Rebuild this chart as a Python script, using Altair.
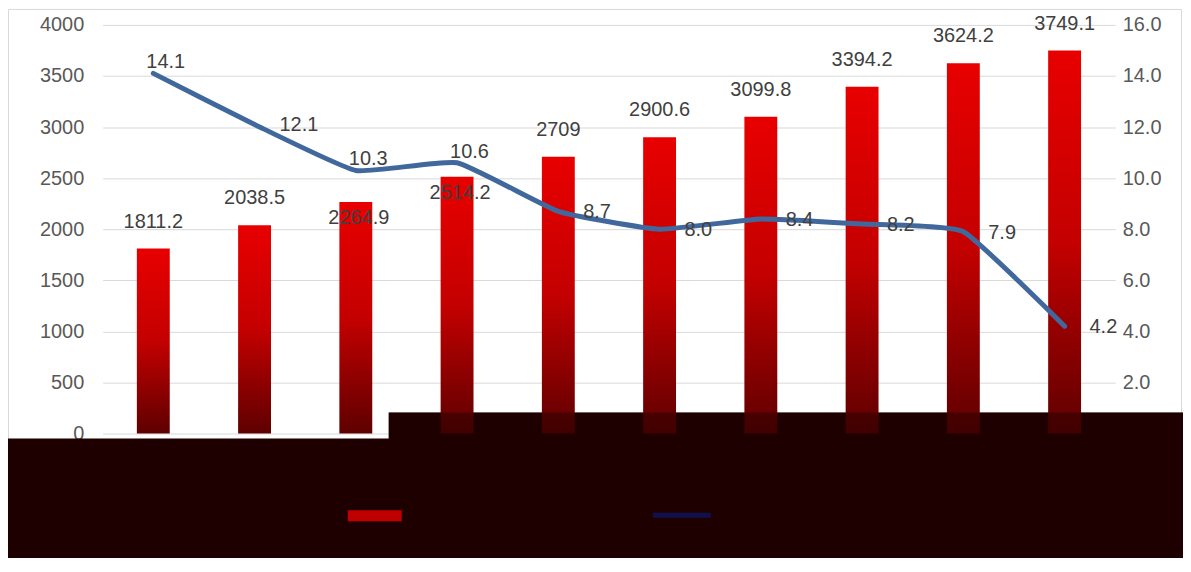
import altair as alt
import pandas as pd

# ---- data ----
categories = ["1", "2", "3", "4", "5", "6", "7", "8", "9", "10"]
totals = [1811.2, 2038.5, 2264.9, 2514.2, 2709, 2900.6, 3099.8, 3394.2, 3624.2, 3749.1]
growth = [14.1, 12.1, 10.3, 10.6, 8.7, 8.0, 8.4, 8.2, 7.9, 4.2]
total_labels = [str(v) for v in totals]
growth_labels = [f"{v:.1f}" for v in growth]

# label placement groups (style, not data)
growth_above = ["1", "3", "4"]
totals_lowered = ["3", "4"]

df = pd.DataFrame({
    "cat": categories,
    "total": totals,
    "growth": growth,
    "total_label": total_labels,
    "growth_label": growth_labels,
})

FONT = "Liberation Sans"
LABEL_COLOR = "#404040"
AXIS_COLOR = "#595959"
GRID = "#d9d9d9"

x = alt.X("cat:N", sort=categories, axis=None,
          scale=alt.Scale(range=[3, 1019], paddingInner=0, paddingOuter=0))

y_left = alt.Y("total:Q", title=None,
               scale=alt.Scale(domain=[0, 4000], nice=False),
               axis=alt.Axis(values=list(range(0, 4001, 500)), format="d", grid=True, gridColor=GRID,
                             gridWidth=1, domain=False, ticks=False, labelPadding=16,
                             labelFontSize=20, labelColor=AXIS_COLOR, labelFont=FONT))
y_left_plain = alt.Y("total:Q", title=None, scale=alt.Scale(domain=[0, 4000], nice=False))

y_right = alt.Y("growth:Q", title=None,
                scale=alt.Scale(domain=[0, 16], nice=False),
                axis=alt.Axis(orient="right", values=list(range(0, 17, 2)), format=".1f",
                              grid=False, domain=False, ticks=False, labelPadding=9,
                              labelFontSize=20, labelColor=AXIS_COLOR, labelFont=FONT))
y_right_plain = alt.Y("growth:Q", title=None, scale=alt.Scale(domain=[0, 16], nice=False))

gradient = alt.LinearGradient(
    gradient="linear", x1=0, x2=0, y1=0, y2=1,
    stops=[alt.GradientStop(color="#e80000", offset=0),
           alt.GradientStop(color="#c40000", offset=0.5),
           alt.GradientStop(color="#5e0000", offset=1)],
)

base = alt.Chart(df)

bars = base.mark_bar(size=33, color=gradient).encode(x=x, y=y_left)

bar_text = base.mark_text(font=FONT, fontSize=20, color=LABEL_COLOR, baseline="alphabetic",
                          dy=-21).encode(x=x, y=y_left_plain, text="total_label:N").transform_filter(
    ~alt.FieldOneOfPredicate(field="cat", oneOf=totals_lowered))
bar_text_low = base.mark_text(font=FONT, fontSize=20, color=LABEL_COLOR, baseline="alphabetic",
                              dy=22, dx=3).encode(x=x, y=y_left_plain, text="total_label:N").transform_filter(
    alt.FieldOneOfPredicate(field="cat", oneOf=totals_lowered))

line = base.mark_line(color="#41689c", strokeWidth=5, interpolate="cardinal", tension=0.6,
                      strokeCap="round", strokeJoin="round").encode(x=x, y=y_right)

line_text_right = base.mark_text(font=FONT, fontSize=20, color=LABEL_COLOR, align="left",
                                 baseline="alphabetic", dx=25, dy=7).encode(
    x=x, y=y_right_plain, text="growth_label:N").transform_filter(
    ~alt.FieldOneOfPredicate(field="cat", oneOf=growth_above))
line_text_above = base.mark_text(font=FONT, fontSize=20, color=LABEL_COLOR, align="left",
                                 baseline="alphabetic", dx=-7, dy=-5).encode(
    x=x, y=y_right_plain, text="growth_label:N").transform_filter(
    alt.FieldOneOfPredicate(field="cat", oneOf=growth_above))

left = alt.layer(bars, bar_text, bar_text_low)
right = alt.layer(line, line_text_right, line_text_above)

one = alt.Data(values=[{"k": 1}])

border = alt.Chart(one).mark_rect(fillOpacity=0, stroke="#d9d9d9", strokeWidth=1).encode(
    x=alt.value(-91.5), x2=alt.value(1085.5), y=alt.value(-15.5), y2=alt.value(500))

dark_a = alt.Chart(one).mark_rect(color="#1f0000").encode(
    x=alt.value(-93), x2=alt.value(1090), y=alt.value(415), y2=alt.value(545))
dark_b = alt.Chart(one).mark_rect(color="#1f0000").encode(
    x=alt.value(290), x2=alt.value(1090), y=alt.value(389), y2=alt.value(416))
# dim veil over bar feet inside the dark band
veil = alt.Chart(one).mark_rect(color="#1f0000", opacity=0.45).encode(
    x=alt.value(290), x2=alt.value(1090), y=alt.value(389), y2=alt.value(416))

legend_red = alt.Chart(one).mark_rect(color="#c00000").encode(
    x=alt.value(249), x2=alt.value(303), y=alt.value(487), y2=alt.value(498))
legend_blue = alt.Chart(one).mark_rule(color="#10104c", strokeWidth=5).encode(
    x=alt.value(555), x2=alt.value(613), y=alt.value(492))

chart = alt.layer(border, dark_a, dark_b, left, veil, right, legend_red, legend_blue).resolve_scale(
    y="independent"
).properties(
    width=1017, height=410,
    autosize=alt.AutoSizeParams(type="none"),
    padding={"left": 92, "top": 16, "right": 70, "bottom": 124},
    background="white",
).configure_view(stroke=None)

chart.save("out.html", embed_options={"renderer": "svg", "actions": False})
